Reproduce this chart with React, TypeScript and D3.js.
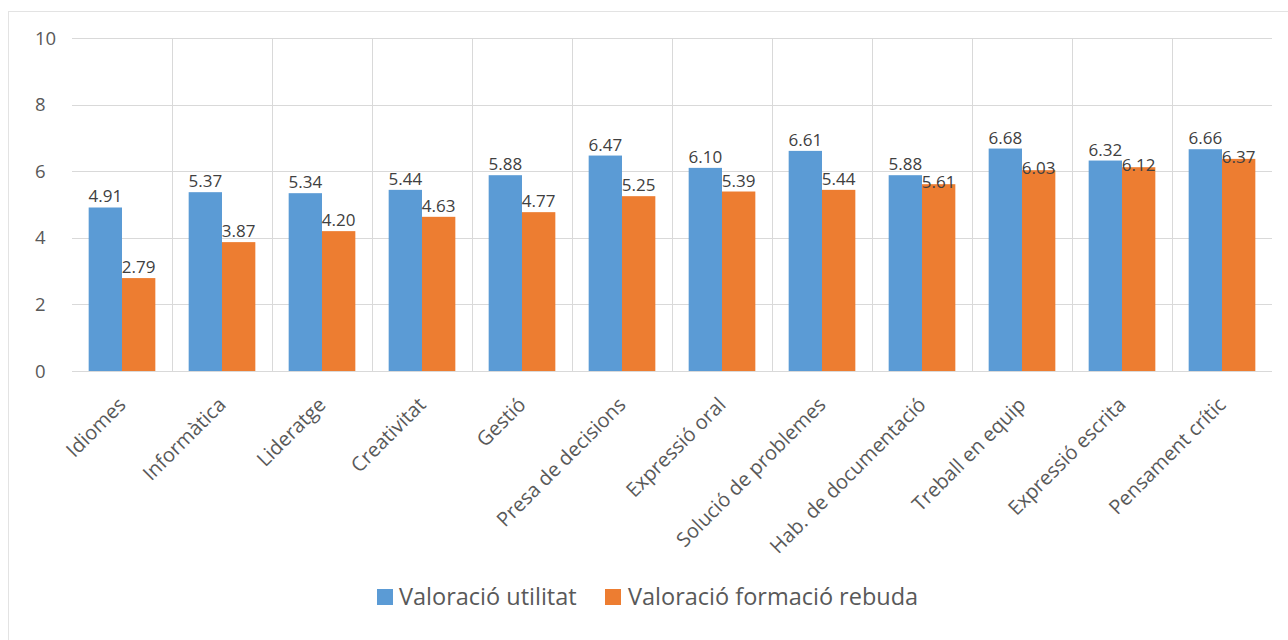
import React from "react";
import * as d3 from "d3";

const categories = [
	"Idiomes",
	"Informàtica",
	"Lideratge",
	"Creativitat",
	"Gestió",
	"Presa de decisions",
	"Expressió oral",
	"Solució de problemes",
	"Hab. de documentació",
	"Treball en equip",
	"Expressió escrita",
	"Pensament crític",
];
const utilitat = [4.91, 5.37, 5.34, 5.44, 5.88, 6.47, 6.1, 6.61, 5.88, 6.68, 6.32, 6.66];
const formacio = [2.79, 3.87, 4.2, 4.63, 4.77, 5.25, 5.39, 5.44, 5.61, 6.03, 6.12, 6.37];
const seriesNames = ["Valoració utilitat", "Valoració formació rebuda"];
const yTicks = [0, 2, 4, 6, 8, 10];

const colors = ["#5B9BD5", "#ED7D31"];
const font = "'Open Sans', Lato, sans-serif";

const W = 1288;
const H = 640;
const plot = { left: 72, right: 1272, top: 38, bottom: 371 };

export default function App() {
	const x = d3
		.scaleBand<string>()
		.domain(categories)
		.range([plot.left, plot.right])
		.padding(0);
	const x1 = d3
		.scaleBand<number>()
		.domain([0, 1])
		.range([0, x.bandwidth()])
		.paddingInner(0)
		.paddingOuter(0.5);
	const y = d3.scaleLinear().domain([0, 10]).range([plot.bottom, plot.top]);

	const rows = categories.map((c, i) => ({
		cat: c,
		vals: [utilitat[i], formacio[i]],
	}));

	// legend positions (centered under the plot)
	const legend = [
		{ sq: 377, tx: 399 },
		{ sq: 605, tx: 628 },
	];

	return (
		<svg
			width={W}
			height={H}
			style={{ position: "absolute", left: 0, top: 0, background: "#fff" }}
			fontFamily={font}
		>
			<rect x={8.5} y={11.5} width={W} height={H} fill="none" stroke="#E3E3E3" />

			{/* horizontal gridlines */}
			{yTicks.map((t) => (
				<line
					key={"h" + t}
					x1={plot.left}
					x2={plot.right}
					y1={Math.round(y(t)) + 0.5}
					y2={Math.round(y(t)) + 0.5}
					stroke="#D9D9D9"
				/>
			))}
			{/* vertical gridlines between categories */}
			{categories.slice(1).map((c) => (
				<line
					key={"v" + c}
					x1={Math.round(x(c)!) + 0.5}
					x2={Math.round(x(c)!) + 0.5}
					y1={y(10)}
					y2={y(0)}
					stroke="#D9D9D9"
				/>
			))}

			{/* y tick labels */}
			{yTicks.map((t) => (
				<text
					key={"t" + t}
					x={35}
					y={y(t)}
					dy="0.36em"
					fontSize={18.5}
					fill="#595959"
				>
					{t}
				</text>
			))}

			{/* bars */}
			{rows.map((r) =>
				r.vals.map((v, s) => (
					<rect
						key={r.cat + s}
						x={x(r.cat)! + x1(s)!}
						y={y(v)}
						width={x1.bandwidth()}
						height={y(0) - y(v)}
						fill={colors[s]}
					/>
				))
			)}

			{/* data labels */}
			{rows.map((r) =>
				r.vals.map((v, s) => {
					// Excel nudges the orange label down when it would crowd the blue one
					const crowded = s === 1 && r.vals[0] - v < 0.68;
					const ly = crowded ? y(v) + 4 : y(v) - 5;
					return (
						<text
							key={"l" + r.cat + s}
							x={x(r.cat)! + x1(s)! + x1.bandwidth() / 2}
							y={ly}
							textAnchor="middle"
							fontSize={17}
							fill="#404040"
						>
							{v.toFixed(2)}
						</text>
					);
				})
			)}

			{/* category labels */}
			{categories.map((c) => (
				<text
					key={"c" + c}
					transform={`translate(${x(c)! + x.bandwidth() / 2 + 5},${406}) rotate(-45)`}
					textAnchor="end"
					fontSize={20}
					fill="#595959"
				>
					{c}
				</text>
			))}

			{/* legend */}
			{seriesNames.map((n, i) => (
				<g key={n}>
					<rect x={legend[i].sq} y={589} width={16} height={16} fill={colors[i]} />
					<text x={legend[i].tx} y={597} dy="0.36em" fontSize={23.5} fill="#595959">
						{n}
					</text>
				</g>
			))}
		</svg>
	);
}
